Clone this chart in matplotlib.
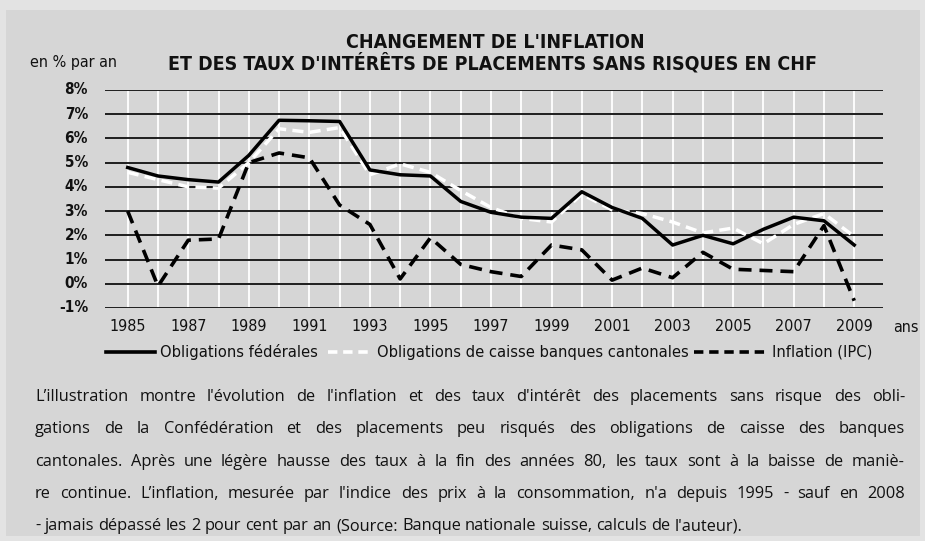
import matplotlib
matplotlib.use('Agg')
import matplotlib.pyplot as plt
from matplotlib.lines import Line2D
from matplotlib.patches import Rectangle

W, H = 925, 541

years = list(range(1985, 2010))
federales = [4.8, 4.45, 4.3, 4.2, 5.3, 6.75, 6.73, 6.7, 4.7, 4.5, 4.45, 3.4, 2.95, 2.75, 2.7,
             3.8, 3.15, 2.7, 1.6, 2.0, 1.65, 2.25, 2.75, 2.6, 1.6]
caisse = [4.6, 4.3, 4.0, 3.95, 5.0, 6.4, 6.25, 6.45, 4.5, 4.95, 4.6, 3.85, 3.15, 2.7, 2.55,
          3.7, 3.05, 2.9, 2.55, 2.1, 2.3, 1.65, 2.45, 2.9, 1.95]
inflation = [3.0, -0.1, 1.8, 1.85, 5.0, 5.4, 5.2, 3.25, 2.45, 0.2, 1.9, 0.8, 0.5, 0.3, 1.6,
             1.4, 0.15, 0.65, 0.25, 1.3, 0.6, 0.55, 0.5, 2.4, -0.7]
yticks = list(range(-1, 9))
xticks = list(range(1985, 2010, 2))
labels = ['Obligations fédérales', 'Obligations de caisse banques cantonales', 'Inflation (IPC)']

caption = [
    "L’illustration montre l'évolution de l'inflation et des taux d'intérêt des placements sans risque des obli-",
    "gations de la Confédération et des placements peu risqués des obligations de caisse des banques",
    "cantonales. Après une légère hausse des taux à la fin des années 80, les taux sont à la baisse de maniè-",
    "re continue. L’inflation, mesurée par l'indice des prix à la consommation, n'a depuis 1995 - sauf en 2008",
    "- jamais dépassé les 2 pour cent par an (Source: Banque nationale suisse, calculs de l'auteur).",
]

NARROW = dict(family='DejaVu Sans', stretch='condensed')
BODY = ['Open Sans', 'DejaVu Sans']


def px(x, y):
    return x / W, 1 - y / H


fig = plt.figure(figsize=(W / 100, H / 100), dpi=100, facecolor='#e3e3e3')
fig.patches.append(Rectangle(px(6, 536), 914 / W, 526 / H, transform=fig.transFigure,
                             facecolor='#d6d6d6', edgecolor='none', zorder=-5))

x0, y0 = px(105, 308)
x1, y1 = px(883, 90)
ax = fig.add_axes([x0, y0, x1 - x0, y1 - y0])
ax.set_facecolor('none')
ax.set_xlim(1984.25, 2009.95)
ax.set_ylim(-1, 8)
for s in ax.spines.values():
    s.set_visible(False)
ax.set_xticks([])
ax.set_yticks([])

# grid: white verticals, dark horizontals
ax.vlines(years, -1, 8, colors='white', lw=1.3, zorder=1)
ax.hlines(yticks, 1984.25, 2009.95, colors='#1e1e1e', lw=1.4, zorder=2)

ax.plot(years, federales, color='black', lw=2.5, zorder=4)
ax.plot(years, caisse, color='white', lw=2.5, dashes=(3.2, 1.8), zorder=3)
ax.plot(years, inflation, color='black', lw=2.6, dashes=(3.6, 2.2), zorder=5)

for v in yticks:
    ax.text(1984.25 - 17 / 30.2, v, f'{v}%', ha='right', va='center', fontsize=11,
            fontweight='bold', color='#111', **NARROW)
for yr in xticks:
    ax.text(yr, -1.75, str(yr), ha='center', va='center', fontsize=11.5, color='#111', **NARROW)
fig.text(*px(893, 327), 'ans', ha='left', va='center', fontsize=11.5, color='#111', **NARROW)

fig.text(*px(30, 63), 'en % par an', ha='left', va='center', fontsize=11.5, color='#111', **NARROW)
fig.text(*px(495, 43), "CHANGEMENT DE L'INFLATION", ha='center', va='center', fontsize=14,
         fontweight='bold', color='#111', **NARROW)
fig.text(*px(492, 63), "ET DES TAUX D'INTÉRÊTS DE PLACEMENTS SANS RISQUES EN CHF", ha='center',
         va='center', fontsize=14, fontweight='bold', color='#111', **NARROW)

# legend
leg = [((106, 155), 160, dict(color='black', lw=2.6)),
       ((328, 370), 377, dict(color='white', lw=2.6, dashes=(2.6, 1.6))),
       ((694, 767), 772, dict(color='black', lw=2.6, dashes=(2.6, 1.6)))]
for (xa, xb), xt, kw in leg:
    la, ly = px(xa, 352)
    lb, _ = px(xb, 352)
    fig.add_artist(Line2D([la, lb], [ly, ly], transform=fig.transFigure, **kw))
for ((xa, xb), xt, kw), lab in zip(leg, labels):
    fig.text(*px(xt, 352), lab, ha='left', va='center', fontsize=11.8, color='#111', **NARROW)

# justified caption
renderer = fig.canvas.get_renderer()


def width(s, fs):
    t = fig.text(0, 0, s, fontsize=fs, family=BODY)
    w = t.get_window_extent(renderer).width
    t.remove()
    return w


FS = 11.8
space = width('x x', FS) - width('xx', FS)
cx0, cx1 = 35, 905
for i, line in enumerate(caption):
    y = 397 + i * 32.3
    words = line.split(' ')
    ws = [width(w, FS) for w in words]
    if i < len(caption) - 1:
        gap = (cx1 - cx0 - sum(ws)) / (len(words) - 1)
    else:
        gap = space
    x = cx0
    for w, wd in zip(words, ws):
        fig.text(*px(x, y), w, ha='left', va='center', fontsize=FS, family=BODY, color='#111')
        x += wd + gap

fig.savefig('out.png', dpi=100, facecolor=fig.get_facecolor())
